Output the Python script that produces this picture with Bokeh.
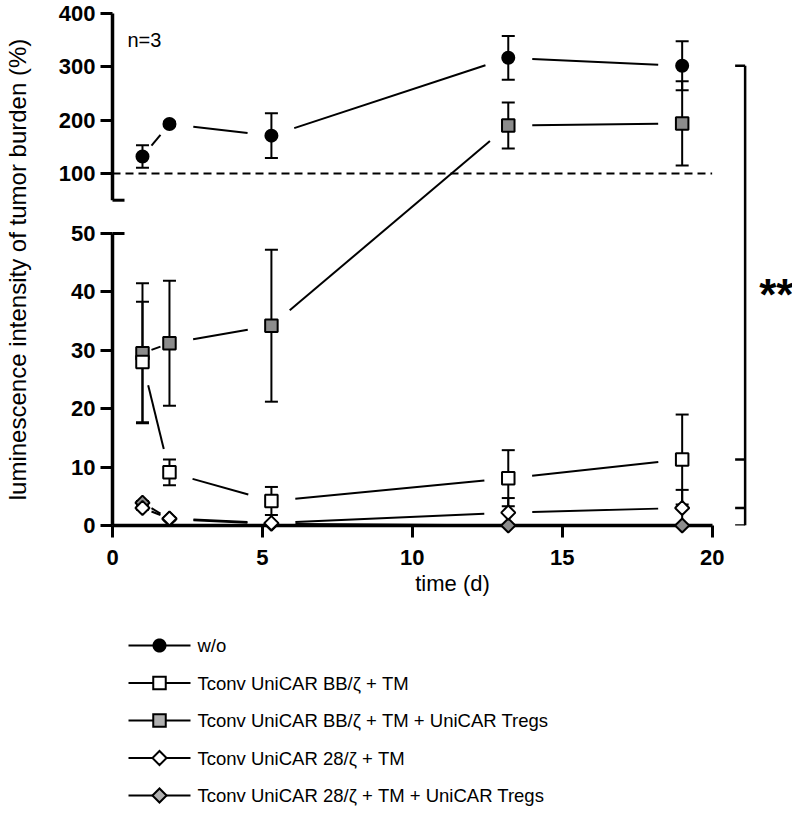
import numpy as np
from bokeh.plotting import figure
from bokeh.models import ColumnDataSource, Whisker, TeeHead, FixedTicker, Label, Range1d
from bokeh.core.properties import value
from bokeh.embed import file_html
from bokeh.resources import INLINE

# ---------------- data ----------------
days = [1.0, 1.9, 5.3, 13.2, 19.0]
series_names = [
    "w/o",
    "Tconv UniCAR BB/ζ + TM",
    "Tconv UniCAR BB/ζ + TM + UniCAR Tregs",
    "Tconv UniCAR 28/ζ + TM",
    "Tconv UniCAR 28/ζ + TM + UniCAR Tregs",
]
wo_mean = [132, 193, 171, 317, 302]
wo_sem = [21, 4, 42, 41, 46]
bb_tm_mean = [28.0, 9.1, 4.2, 8.1, 11.3]
bb_tm_sem = [10.3, 2.2, 2.4, 4.8, 7.7]
bb_treg_mean = [29.5, 31.2, 34.2, 190, 194]
bb_treg_sem = [12.0, 10.7, 13.0, 43, 79]
z28_tm_mean = [3.0, 1.2, 0.4, 2.2, 3.0]
z28_tm_sem = [0.3, 0.2, 0.2, 2.5, 3.1]
z28_treg_mean = [3.9, 1.1, 0.3, 0.0, 0.0]
z28_treg_sem = [0.3, 0.2, 0.1, 0.0, 0.0]

y_lower_ticks = [0, 10, 20, 30, 40, 50]
y_upper_ticks = [100, 200, 300, 400]
x_ticks = [0, 5, 10, 15, 20]
reference_level = 100
annotation_n = "n=3"
annotation_sig = "**"

# ---------------- broken y axis mapping ----------------
LOWER_TOP = 50.0
UPPER_START_VAL = 50.0
UPPER_START_DISP = 55.7
UPPER_SCALE = 0.09135


def disp(v):
    v = np.asarray(v, dtype=float)
    return np.where(v <= LOWER_TOP, v, UPPER_START_DISP + (v - UPPER_START_VAL) * UPPER_SCALE)


FONT = "Liberation Sans"
GRAY = "#8c8c8c"
LEGEND_GRAY = "#b0b0b0"
X0, X1 = 0.0, 22.68
Y0, Y1 = 0.0, float(disp(400))
FW, FH = 680, 512
LEFT, TOP = 112, 13
SX = FW / (X1 - X0)
SY = FH / (Y1 - Y0)


def px_to_x(px):
    return (np.asarray(px, float) - LEFT) / SX


def py_to_y(py):
    return Y1 - (np.asarray(py, float) - TOP) / SY


p = figure(frame_width=FW, frame_height=FH, x_range=Range1d(X0, X1), y_range=Range1d(Y0, Y1),
           output_backend="svg", toolbar_location=None,
           min_border_left=LEFT, min_border_right=0, min_border_top=TOP, min_border_bottom=296)
p.outline_line_color = None
p.xgrid.visible = False
p.ygrid.visible = False

# ---------------- axes ----------------
all_y_ticks = [float(t) for t in y_lower_ticks] + [float(t) for t in disp(y_upper_ticks)]
all_y_labels = [str(t) for t in y_lower_ticks] + [str(t) for t in y_upper_ticks]
p.yaxis.ticker = FixedTicker(ticks=all_y_ticks)
p.yaxis.major_label_overrides = {t: l for t, l in zip(all_y_ticks, all_y_labels)}
p.yaxis.axis_line_color = None
p.yaxis.major_tick_line_width = 3
p.yaxis.major_tick_line_color = "black"
p.yaxis.major_tick_out = 12
p.yaxis.major_tick_in = 0
p.yaxis.minor_tick_line_color = None
p.yaxis.major_label_text_font = FONT
p.yaxis.major_label_text_font_style = "bold"
p.yaxis.major_label_text_font_size = "22px"
p.yaxis.major_label_text_color = "black"
p.yaxis.major_label_standoff = 5
p.yaxis.axis_label = "luminescence intensity of tumor burden (%)"
p.yaxis.axis_label_text_font = FONT
p.yaxis.axis_label_text_font_style = "normal"
p.yaxis.axis_label_text_font_size = "24px"
p.yaxis.axis_label_text_color = "black"
p.yaxis.axis_label_standoff = 25

p.xaxis.ticker = FixedTicker(ticks=x_ticks)
p.xaxis.bounds = (x_ticks[0], x_ticks[-1])
p.xaxis.axis_line_width = 3.5
p.xaxis.axis_line_color = "black"
p.xaxis.major_tick_line_width = 3
p.xaxis.major_tick_line_color = "black"
p.xaxis.major_tick_out = 12
p.xaxis.major_tick_in = 0
p.xaxis.minor_tick_line_color = None
p.xaxis.major_label_text_font = FONT
p.xaxis.major_label_text_font_style = "bold"
p.xaxis.major_label_text_font_size = "22px"
p.xaxis.major_label_text_color = "black"
p.xaxis.major_label_standoff = 12
p.xaxis.axis_label = "time (d)"
p.xaxis.axis_label_text_font = FONT
p.xaxis.axis_label_text_font_style = "normal"
p.xaxis.axis_label_text_font_size = "22px"
p.xaxis.axis_label_text_color = "black"
p.xaxis.axis_label_standoff = 3

# broken y axis line pieces + break marks
brk = 12 / SX
p.segment(x0=[0, 0], y0=[0, UPPER_START_DISP], x1=[0, 0], y1=[LOWER_TOP, Y1],
          line_color="black", line_width=3.5, level="overlay")
p.segment(x0=[0, 0], y0=[LOWER_TOP, UPPER_START_DISP], x1=[brk, brk],
          y1=[LOWER_TOP, UPPER_START_DISP], line_color="black", line_width=3, level="overlay")

# dashed reference line at 100 %
p.segment(x0=[x_ticks[0]], y0=[float(disp(reference_level))], x1=[x_ticks[-1]],
          y1=[float(disp(reference_level))], line_color="black", line_width=2, line_dash="8 5")


def gapped(xs, ys, gap=24.0, frac=1 / 3.0):
    x0s, y0s, x1s, y1s = [], [], [], []
    for i in range(len(xs) - 1):
        ax, ay = xs[i] * SX, ys[i] * SY
        bx, by = xs[i + 1] * SX, ys[i + 1] * SY
        dx, dy = bx - ax, by - ay
        d = float(np.hypot(dx, dy))
        if d == 0:
            continue
        g = min(gap, d * frac)
        ux, uy = dx / d, dy / d
        x0s.append((ax + ux * g) / SX)
        y0s.append((ay + uy * g) / SY)
        x1s.append((bx - ux * g) / SX)
        y1s.append((by - uy * g) / SY)
    return dict(x0=x0s, y0=y0s, x1=x1s, y1=y1s)


# name, mean, sem, marker, fill, size, angle, legend fill
series = [
    (series_names[0], wo_mean, wo_sem, "circle", "black", 12, 0.0, "black"),
    (series_names[1], bb_tm_mean, bb_tm_sem, "square", "white", 12.5, 0.0, "white"),
    (series_names[2], bb_treg_mean, bb_treg_sem, "square", GRAY, 12.5, 0.0, LEGEND_GRAY),
    (series_names[3], z28_tm_mean, z28_tm_sem, "square", "white", 10, np.pi / 4, "white"),
    (series_names[4], z28_treg_mean, z28_treg_sem, "square", GRAY, 10, np.pi / 4, LEGEND_GRAY),
]

# error bars
for name, mean, sem, marker, fill, size, ang, lfill in series:
    m = np.asarray(mean, float)
    s = np.asarray(sem, float)
    keep = s > 0
    src = ColumnDataSource(dict(base=np.asarray(days)[keep], upper=disp(m + s)[keep],
                                lower=disp(m - s)[keep]))
    p.add_layout(Whisker(source=src, base="base", upper="upper", lower="lower",
                         dimension="height", line_color="black", line_width=2,
                         upper_head=TeeHead(size=13, line_width=2, line_color="black"),
                         lower_head=TeeHead(size=13, line_width=2, line_color="black")))

# connecting lines (with gaps around markers)
for name, mean, sem, marker, fill, size, ang, lfill in series:
    p.segment(x0="x0", y0="y0", x1="x1", y1="y1",
              source=ColumnDataSource(gapped(days, disp(mean))),
              line_color="black", line_width=2)

# markers (drawing order: gray below white)
draw_order = [0, 2, 1, 4, 3]
for idx in draw_order:
    name, mean, sem, marker, fill, size, ang, lfill = series[idx]
    src = ColumnDataSource(dict(x=days, y=disp(mean), a=[ang] * len(days)))
    p.scatter(x="x", y="y", source=src, marker=marker, size=size, angle="a",
              fill_color=fill, line_color="black", line_width=2, level="overlay")

# significance bracket
bx = 21.1
tick_len = 10 / SX
last_vals = [wo_mean[-1], bb_tm_mean[-1], z28_tm_mean[-1], z28_treg_mean[-1]]
last_disp = [float(v) for v in disp(last_vals)]
p.segment(x0=[bx], y0=[max(last_disp)], x1=[bx], y1=[min(last_disp)],
          line_color="black", line_width=2.5)
p.segment(x0=[bx - tick_len] * len(last_disp), y0=last_disp, x1=[bx] * len(last_disp),
          y1=last_disp, line_color="black", line_width=2.5)

p.add_layout(Label(x=21.57, y=39.5, text=annotation_sig, text_font=FONT, text_font_style="bold",
                   text_font_size="44px", text_baseline="middle", text_align="left",
                   text_color="black"))
p.add_layout(Label(x=0.5, y=83.1, text=annotation_n, text_font=FONT, text_font_size="20px",
                   text_baseline="middle", text_align="left", text_color="black"))


# ---------------- legend (drawn below the x axis) ----------------
def marker_outline(shape, size, ang):
    """Outline of a legend symbol, as pixel offsets around its centre."""
    if shape == "circle":
        t = np.linspace(0, 2 * np.pi, 41)[:-1]
        r = size / 2.0
        return r * np.cos(t), r * np.sin(t)
    h = size / 2.0
    cx = np.array([-h, h, h, -h])
    cy = np.array([-h, -h, h, h])
    c, s = np.cos(ang), np.sin(ang)
    return cx * c - cy * s, cx * s + cy * c


LEG_ROW0, LEG_PITCH = 645.0, 37.5
LEG_LINE = (128, 190)
LEG_MARK = 159
LEG_TEXT = 197
for i, (name, mean, sem, marker, fill, size, ang, lfill) in enumerate(series):
    cy_px = LEG_ROW0 + i * LEG_PITCH
    yy = float(py_to_y(cy_px))
    p.segment(x0=[float(px_to_x(LEG_LINE[0]))], y0=[yy], x1=[float(px_to_x(LEG_LINE[1]))],
              y1=[yy], line_color="black", line_width=2, level="overlay")
    ox, oy = marker_outline(marker, size, ang)
    p.patch(x=px_to_x(LEG_MARK + ox), y=py_to_y(cy_px - oy), fill_color=lfill,
            line_color="black", line_width=2, line_join="miter", level="overlay")
    p.text(x=[float(px_to_x(LEG_TEXT))], y=[yy], text=[name], text_font=value(FONT),
           text_font_size="18.5px", text_baseline="middle", text_align="left",
           text_color="black", level="overlay")

open("out.html", "w").write(file_html(p, INLINE))
